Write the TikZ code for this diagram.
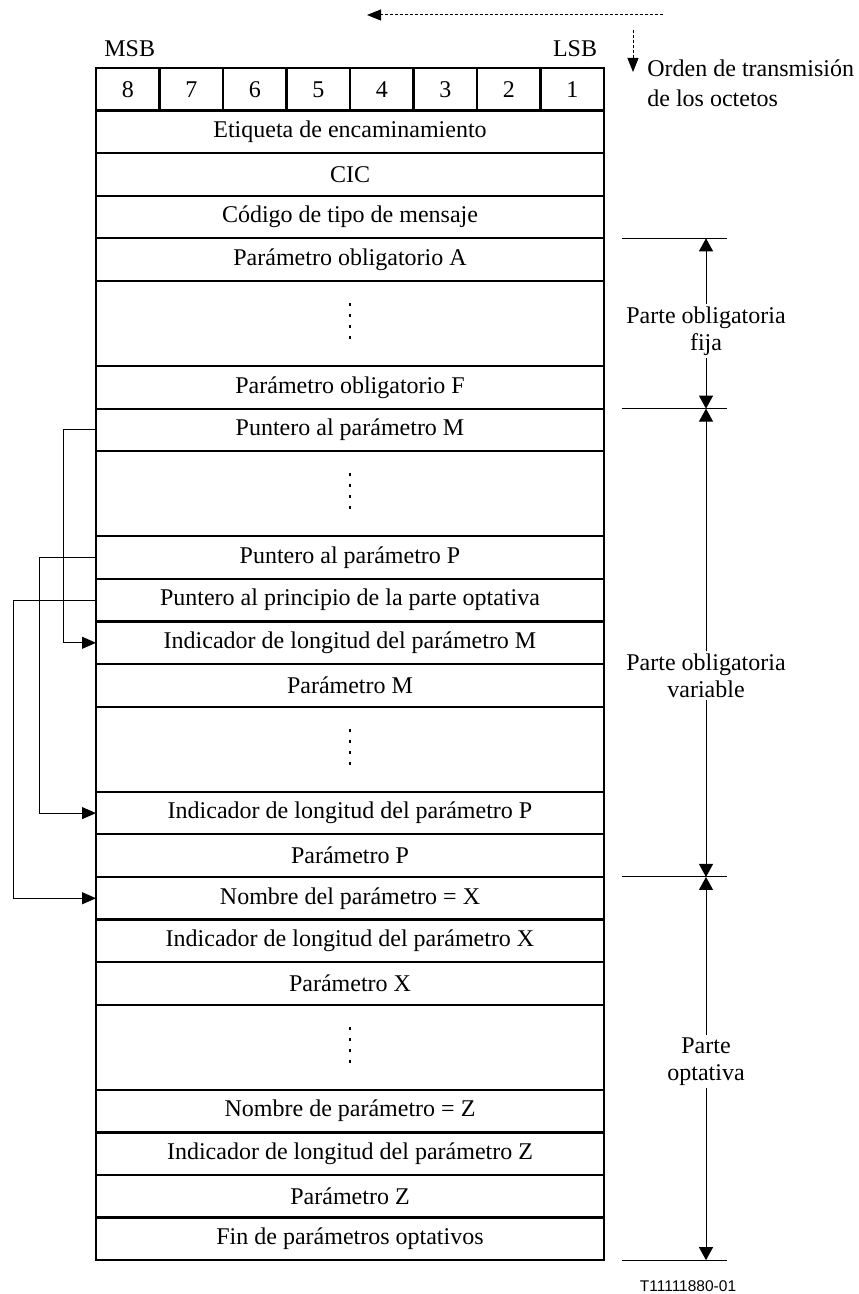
\documentclass[tikz,border=0pt]{standalone}
\usepackage{fontspec}
\setmainfont{Liberation Serif}
\newfontfamily\labelfont{Liberation Sans}
\usetikzlibrary{positioning, arrows.meta}

\tikzstyle{rowBox} = [shape=rectangle, draw=black, line width=1.1pt, text=black,
	align=center, fill=white, inner sep=0pt, outer sep=0pt,
	minimum width=254pt, minimum height=21.29pt]
\tikzstyle{gapBox} = [rowBox, minimum height=42.57pt]
\tikzstyle{bitBox} = [rowBox, minimum width=31.75pt]
\tikzstyle{ptrArrow} = [line width=0.5pt, -{Triangle[length=7pt,width=6pt]}, draw=black]
\tikzstyle{partArrow} = [line width=0.5pt, -{Triangle[length=6.5pt,width=7pt]}, draw=black]
\tikzstyle{partLabel} = [fill=white, align=center, inner sep=1pt,
	font=\fontsize{12}{13.5}\selectfont]
\tikzstyle{tickLine} = [line width=0.5pt, draw=black]
\tikzstyle{orderArrow} = [line width=0.5pt, dash pattern=on 1.5pt off 1pt,
	-{Triangle[length=7pt,width=5.5pt]}]
\newcommand{\dotsIn}[1]{%
  \foreach \dy in {9.5,4,-1.5,-7}
    \fill ([yshift=\dy pt]#1.center) +(-0.7pt,-0.7pt) rectangle +(0.7pt,0.7pt);}

\begin{document}
\begin{tikzpicture}[font=\fontsize{12}{15}\selectfont]
  \useasboundingbox (0,0) rectangle (429pt,-647pt);

	% octet header
	\node (b8) at (48pt,-34pt) [bitBox, anchor=north west] {8};
	\node (b7) [bitBox, right=0pt of b8] {7};
	\node (b6) [bitBox, right=0pt of b7] {6};
	\node (b5) [bitBox, right=0pt of b6] {5};
	\node (b4) [bitBox, right=0pt of b5] {4};
	\node (b3) [bitBox, right=0pt of b4] {3};
	\node (b2) [bitBox, right=0pt of b3] {2};
	\node (b1) [bitBox, right=0pt of b2] {1};
	\node (msb) at ([xshift=1pt,yshift=9.5pt]b8.north) {MSB};
	\node (lsb) at ([xshift=1.4pt,yshift=9.5pt]b1.north) {LSB};

	\node (etiq) at (b8.south west) [rowBox, anchor=north west] {Etiqueta de encaminamiento};
	\node (cic) [rowBox, below=0pt of etiq] {CIC};
	\node (codigo) [rowBox, below=0pt of cic] {Código de tipo de mensaje};
	\node (parA) [rowBox, below=0pt of codigo] {Parámetro obligatorio A};
	\node (dotsFix) [gapBox, below=0pt of parA] {};
	\node (parF) [rowBox, below=0pt of dotsFix] {Parámetro obligatorio F};
	\node (ptrM) [rowBox, below=0pt of parF] {Puntero al parámetro M};
	\node (dotsPtr) [gapBox, below=0pt of ptrM] {};
	\node (ptrP) [rowBox, below=0pt of dotsPtr] {Puntero al parámetro P};
	\node (ptrOpt) [rowBox, below=0pt of ptrP] {Puntero al principio de la parte optativa};
	\node (lenM) [rowBox, below=0pt of ptrOpt] {Indicador de longitud del parámetro M};
	\node (parM) [rowBox, below=0pt of lenM] {Parámetro M};
	\node (dotsVar) [gapBox, below=0pt of parM] {};
	\node (lenP) [rowBox, below=0pt of dotsVar] {Indicador de longitud del parámetro P};
	\node (parP) [rowBox, below=0pt of lenP] {Parámetro P};
	\node (nameX) [rowBox, below=0pt of parP] {Nombre del parámetro = X};
	\node (lenX) [rowBox, below=0pt of nameX] {Indicador de longitud del parámetro X};
	\node (parX) [rowBox, below=0pt of lenX] {Parámetro X};
	\node (dotsOpt) [gapBox, below=0pt of parX] {};
	\node (nameZ) [rowBox, below=0pt of dotsOpt] {Nombre de parámetro = Z};
	\node (lenZ) [rowBox, below=0pt of nameZ] {Indicador de longitud del parámetro Z};
	\node (parZ) [rowBox, below=0pt of lenZ] {Parámetro Z};
	\node (fin) [rowBox, below=0pt of parZ] {Fin de parámetros optativos};

	\dotsIn{dotsFix}
	\dotsIn{dotsPtr}
	\dotsIn{dotsVar}
	\dotsIn{dotsOpt}

	% pointers
	\draw [ptrArrow] (ptrM.west) -- ++(-16.5pt,0) |- (lenM.west);
	\draw [ptrArrow] (ptrP.west) -- ++(-28.5pt,0) |- (lenP.west);
	\draw [ptrArrow] (ptrOpt.west) -- ++(-41.5pt,0) |- (nameX.west);

	% transmission order
	\coordinate (bitStart) at (331.5pt,-7.5pt);
	\coordinate (bitEnd) at (183.5pt,-7.5pt);
	\draw [orderArrow] (bitStart) -- (bitEnd);
	\coordinate (octStart) at (316.5pt,-15pt);
	\coordinate (octEnd) at (316.5pt,-36pt);
	\draw [orderArrow] (octStart) -- (octEnd);
	\node (orden) at (323.5pt,-29.5pt) [anchor=north west, align=left, inner sep=0pt]
		{Orden de transmisión\\de los octetos};

	% parts
	\draw [tickLine] ([xshift=9pt]parA.north east) -- ([xshift=61.5pt]parA.north east);
	\draw [tickLine] ([xshift=9pt]parF.south east) -- ([xshift=61.5pt]parF.south east);
	\draw [tickLine] ([xshift=9pt]parP.south east) -- ([xshift=61.5pt]parP.south east);
	\draw [tickLine] ([xshift=9pt]fin.south east) -- ([xshift=61.5pt]fin.south east);
	\coordinate (fijaTop) at ([xshift=51pt]parA.north east);
	\coordinate (fijaBot) at ([xshift=51pt]parF.south east);
	\coordinate (varBot) at ([xshift=51pt]parP.south east);
	\coordinate (optBot) at ([xshift=51pt]fin.south east);
	\node (fijaLbl) at (353pt,-165.5pt) [partLabel] {Parte obligatoria\\fija};
	\node (varLbl) at (353pt,-337.75pt) [partLabel] {Parte obligatoria\\variable};
	\node (optLbl) at (353pt,-530.75pt) [partLabel] {Parte\\optativa};
	\draw [partArrow] (fijaLbl) -- (fijaTop);
	\draw [partArrow] (fijaLbl) -- (fijaBot);
	\draw [partArrow] (varLbl) -- (fijaBot);
	\draw [partArrow] (varLbl) -- (varBot);
	\draw [partArrow] (optLbl) -- (varBot);
	\draw [partArrow] (optLbl) -- (optBot);

	\node (figId) at (344pt,-643.25pt) [font=\labelfont\fontsize{7.75}{9}\selectfont] {T11111880-01};
\end{tikzpicture}
\end{document}
